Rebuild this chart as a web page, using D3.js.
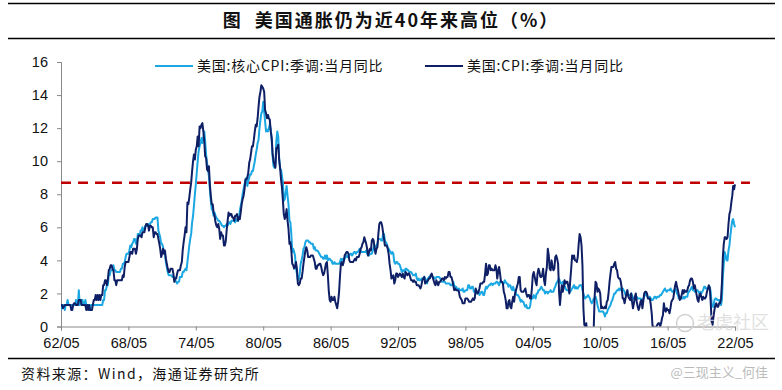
<!DOCTYPE html>
<html><head><meta charset="utf-8">
<script src="https://cdn.jsdelivr.net/npm/d3@7"></script>
<style>
html,body{margin:0;padding:0;background:#fff;}
svg{display:block;}
</style></head>
<body>
<svg id="chart" width="782" height="390"></svg>
<script>
// ---- DATA (monthly, starting 1962-05) ----
const startYear = 1962, startMonth = 5;
const seriesNames = ["美国:核心CPI:季调:当月同比", "美国:CPI:季调:当月同比"];
const coreYoY = [
1.0,1.3,1.3,1.3,1.0,1.3,1.3,1.6,
1.3,1.3,1.3,1.3,1.3,1.3,1.3,1.3,1.6,1.3,1.3,2.2,
1.3,1.6,1.6,1.6,1.3,1.3,1.6,1.3,1.3,1.3,1.3,1.0,
1.3,1.3,1.3,1.3,1.3,1.3,1.3,1.3,1.3,1.3,1.3,1.3,
1.3,1.6,1.6,2.2,2.2,2.5,2.5,3.1,3.1,3.4,3.4,3.4,
3.7,3.4,3.4,3.3,3.3,3.3,3.3,3.3,3.5,3.5,3.8,3.8,
3.9,4.2,4.4,4.4,4.4,4.6,4.9,4.8,5.0,5.1,5.3,5.3,
5.0,5.0,5.6,5.6,5.5,5.8,5.8,6.0,5.8,5.8,6.1,6.1,
6.1,6.2,6.0,6.2,6.3,6.3,6.5,6.5,6.5,6.6,6.6,6.6,
5.8,5.6,5.4,5.0,5.0,4.8,4.5,4.4,3.9,3.6,3.3,3.1,
3.1,3.1,3.1,3.0,3.0,3.0,2.8,2.7,2.6,2.7,2.7,3.0,
3.0,3.0,3.3,3.3,3.4,3.5,3.4,3.9,4.4,4.9,5.3,5.6,
6.3,6.7,7.3,8.0,8.6,9.3,10.0,10.6,10.9,11.1,11.4,11.1,
11.4,11.8,11.2,10.4,9.9,9.5,9.1,8.3,7.6,7.1,7.0,6.7,
6.9,6.7,6.6,6.5,6.4,6.4,6.3,6.2,6.1,6.1,6.0,6.1,
6.1,6.2,6.1,6.3,6.3,6.2,6.4,6.4,6.4,6.4,6.3,6.5,
6.4,6.4,6.5,7.0,7.3,7.6,8.0,8.3,8.6,8.8,9.0,8.5,
8.8,9.0,9.2,9.2,9.4,9.4,9.7,10.0,10.4,10.7,11.1,11.3,
12.0,12.5,12.9,13.0,13.6,13.0,12.4,11.8,11.9,11.8,12.0,12.2,
11.9,11.3,10.3,9.7,9.6,9.8,11.2,11.8,11.5,10.2,9.5,9.5,
9.1,8.7,7.6,7.7,8.1,8.5,7.9,7.4,6.4,6.3,5.6,4.5,
4.7,4.5,4.3,3.5,3.2,2.8,2.9,3.2,3.8,4.0,4.3,4.7,
4.8,5.1,5.2,5.2,5.2,5.1,5.1,5.0,5.0,5.0,4.7,4.8,
4.6,4.6,4.6,4.5,4.4,4.3,4.2,4.2,4.1,4.1,4.3,4.1,
4.3,4.0,4.1,4.1,4.0,4.0,3.8,3.8,3.9,3.8,3.8,3.8,
3.8,3.8,3.9,4.1,4.0,4.1,4.0,4.1,4.2,4.3,4.2,4.2,
4.3,4.4,4.4,4.3,4.4,4.5,4.5,4.4,4.5,4.5,4.6,4.7,
4.6,4.5,4.5,4.5,4.5,4.5,4.6,4.4,4.3,4.3,4.4,4.4,
4.4,4.6,4.8,4.9,4.8,4.9,5.0,5.3,5.3,5.3,5.2,5.2,
5.6,5.6,5.2,5.1,5.0,4.8,4.7,4.6,4.5,4.4,4.5,4.4,
3.9,3.8,3.9,3.9,3.8,3.8,3.7,3.5,3.3,3.4,3.4,3.3,
3.5,3.5,3.4,3.4,3.3,3.3,3.3,3.2,3.1,3.1,3.1,3.2,
2.9,2.8,2.9,2.8,2.8,2.9,2.9,2.9,3.0,2.9,2.8,2.6,
2.9,3.0,3.0,3.1,3.1,3.0,3.0,2.9,2.9,3.0,3.0,3.0,
3.0,2.9,2.8,2.7,2.7,2.7,2.7,2.6,2.6,2.6,2.6,2.6,
2.5,2.5,2.5,2.7,2.5,2.4,2.4,2.3,2.2,2.3,2.2,2.2,
2.2,2.3,2.1,2.1,2.2,2.2,2.2,2.5,2.5,2.3,2.3,2.4,
2.4,2.1,2.1,2.2,2.0,2.1,2.1,1.9,2.0,2.1,2.1,1.9,
1.9,2.2,2.4,2.3,2.4,2.5,2.5,2.6,2.6,2.5,2.6,2.6,
2.6,2.7,2.7,2.6,2.5,2.7,2.7,2.7,2.6,2.6,2.8,2.7,
2.6,2.6,2.4,2.5,2.5,2.3,2.2,2.4,2.2,2.2,2.0,1.9,
1.9,1.8,1.7,1.5,1.6,1.5,1.5,1.3,1.2,1.3,1.1,1.1,
1.1,1.2,1.6,1.8,1.7,1.9,1.8,1.7,2.0,2.0,2.2,2.2,
2.3,2.4,2.3,2.2,2.2,2.0,2.1,2.1,2.0,2.1,2.1,2.2,
2.1,2.1,2.1,2.3,2.4,2.6,2.7,2.8,2.9,2.7,2.6,2.6,
2.7,2.7,2.5,2.3,2.2,2.2,2.2,2.1,2.1,2.2,2.3,2.4,
2.5,2.3,2.4,2.3,2.3,2.4,2.5,2.5,2.5,2.2,2.0,1.8,
1.7,1.8,1.8,1.9,1.8,1.7,1.5,1.4,1.5,1.7,1.7,1.8,
1.6,1.3,1.1,0.9,0.9,0.9,0.9,0.9,0.8,0.6,0.8,0.8,
1.0,1.1,1.2,1.3,1.5,1.6,1.8,2.0,2.0,2.1,2.2,2.2,
2.3,2.2,2.3,2.3,2.3,2.2,2.1,1.9,2.0,2.0,1.9,1.9,
1.9,2.0,1.9,1.7,1.7,1.6,1.7,1.8,1.7,1.7,1.7,1.7,
1.6,1.6,1.7,1.8,2.0,1.9,1.9,1.7,1.7,1.8,1.7,1.6,
1.6,1.7,1.8,1.8,1.7,1.8,1.8,1.8,1.9,1.9,2.0,2.1,
2.2,2.3,2.2,2.1,2.2,2.2,2.2,2.3,2.2,2.1,2.1,2.2,
2.3,2.2,2.0,1.9,1.7,1.7,1.7,1.7,1.7,1.8,1.7,1.8,
1.8,1.8,2.1,2.1,2.2,2.3,2.4,2.2,2.2,2.1,2.2,2.2,
2.2,2.1,2.0,2.1,2.0,2.1,2.2,2.4,2.4,2.3,2.3,2.3,
2.3,2.4,2.1,1.4,1.2,1.2,1.6,1.7,1.7,1.6,1.6,1.6,
1.4,1.3,1.6,3.0,3.8,4.5,4.3,4.0,4.0,4.6,4.9,5.5,
6.0,6.4,6.5,6.2,6.0
];
const cpiYoY = [
1.3,1.3,1.1,1.2,1.3,1.3,1.3,1.3,
1.3,1.3,1.3,1.0,1.0,1.3,1.4,1.4,1.3,1.3,1.3,1.6,
1.6,1.6,1.3,1.3,1.3,1.3,1.3,1.0,1.3,1.0,1.3,1.0,
1.0,1.0,1.3,1.6,1.6,1.9,1.6,1.9,1.6,1.9,1.6,1.9,
1.9,2.5,2.5,2.8,2.8,2.5,2.8,3.4,3.5,3.7,3.7,3.5,
3.4,2.8,2.8,2.5,2.8,2.8,2.8,2.8,2.8,2.8,3.1,3.0,
3.6,3.9,3.9,3.9,3.9,4.2,4.5,4.5,4.4,4.7,4.7,4.7,
4.4,4.7,5.3,5.5,5.5,5.5,5.4,5.7,5.7,5.7,6.0,6.2,
6.2,6.1,5.8,6.1,6.1,6.0,6.0,5.4,5.7,5.7,5.6,5.6,
5.3,5.0,4.7,4.2,4.4,4.7,4.4,4.6,4.1,3.8,3.5,3.3,
3.3,3.5,3.5,3.5,3.2,2.7,2.9,2.9,3.2,3.4,3.4,3.4,
3.7,3.9,4.6,5.1,5.5,6.0,5.7,7.5,7.4,7.8,8.3,8.7,
9.4,10.0,10.4,10.1,10.7,10.9,11.5,10.9,12.1,12.0,12.2,12.3,
11.8,11.2,10.3,10.2,9.5,9.4,9.7,8.6,7.9,7.4,7.4,6.9,
6.7,6.3,6.1,6.0,6.2,5.9,5.3,5.7,5.5,5.5,4.9,4.9,
5.2,5.9,6.4,6.9,6.7,6.8,6.8,6.6,6.6,6.4,6.7,6.7,
6.8,6.4,6.6,6.5,6.9,7.4,7.7,7.9,8.3,8.9,8.9,9.0,
9.3,9.9,10.1,10.5,10.9,10.9,11.3,11.8,12.2,12.1,12.6,13.3,
13.9,14.2,14.6,14.5,14.4,14.2,13.1,12.9,12.6,12.8,12.6,12.5,
11.8,11.4,10.5,10.0,9.8,9.6,10.8,10.8,11.0,10.1,9.6,8.9,
8.4,7.6,6.8,6.5,6.7,7.1,6.4,5.9,5.0,5.1,4.6,3.8,
3.7,3.5,3.6,3.9,3.5,2.6,2.5,2.6,2.9,2.9,3.3,3.8,
4.2,4.6,4.8,4.6,4.2,4.2,4.2,4.3,4.3,4.3,4.1,3.9,
3.5,3.5,3.7,3.7,3.8,3.8,3.6,3.3,3.1,3.2,3.5,3.8,
3.9,3.1,2.2,1.6,1.5,1.8,1.6,1.6,1.8,1.5,1.3,1.1,
1.5,2.1,3.0,3.8,3.9,3.7,3.9,4.3,4.4,4.5,4.5,4.4,
4.0,3.9,3.9,3.9,3.9,4.0,4.1,4.0,4.2,4.2,4.2,4.4,
4.7,4.8,5.0,5.1,5.4,5.2,5.0,4.7,4.3,4.5,4.7,4.6,
5.2,5.3,5.2,4.7,4.4,4.7,4.8,5.6,6.2,6.3,6.3,6.1,
5.7,5.3,4.9,4.9,4.9,4.7,4.4,3.8,3.4,2.9,3.0,3.1,
2.6,2.8,3.2,3.2,3.0,3.1,3.2,3.1,3.0,3.2,3.0,2.9,
3.3,3.2,3.1,3.2,3.2,3.0,2.8,2.8,2.7,2.8,2.7,2.7,
2.5,2.5,2.5,2.4,2.3,2.5,2.8,2.9,3.0,2.6,2.7,2.7,
2.8,2.9,2.9,3.1,3.2,3.0,2.8,2.6,2.5,2.8,2.6,2.5,
2.7,2.7,2.8,2.9,2.9,2.8,3.0,2.9,3.0,3.0,3.3,3.3,
3.0,3.0,2.8,2.5,2.2,2.3,2.2,2.2,2.2,2.1,1.8,1.7,
1.6,1.4,1.4,1.4,1.7,1.7,1.7,1.6,1.5,1.5,1.5,1.6,
1.7,1.6,1.7,2.3,2.1,2.0,2.1,2.3,2.6,2.6,2.6,2.7,
2.7,3.2,3.8,3.1,3.2,3.7,3.7,3.4,3.5,3.4,3.4,3.4,
3.7,3.5,2.9,3.3,3.6,3.2,2.7,2.7,2.6,2.1,1.9,1.6,
1.1,1.1,1.5,1.6,1.2,1.1,1.5,1.8,1.5,2.0,2.2,2.4,
2.6,3.0,3.0,2.2,2.1,2.1,2.1,2.2,2.3,2.0,1.8,1.9,
1.9,1.7,1.7,2.3,3.1,3.3,3.0,2.7,2.5,3.2,3.5,3.3,
3.0,3.0,3.1,3.5,2.8,2.5,3.2,3.6,4.7,4.3,3.5,3.4,
4.0,3.6,3.4,3.5,4.2,4.3,4.1,3.8,2.1,1.3,2.0,2.5,
2.1,2.4,2.8,2.6,2.7,2.7,2.4,2.0,2.8,3.5,4.3,4.1,
4.3,4.0,4.0,3.9,4.2,5.0,5.6,5.4,4.9,3.7,1.1,0.1,
0.0,0.2,-0.4,-0.7,-1.3,-1.4,-2.1,-1.5,-1.3,-0.2,1.8,2.7,
2.6,2.1,2.3,2.2,2.0,1.1,1.2,1.1,1.1,1.2,1.1,1.5,
1.6,2.1,2.7,3.2,3.6,3.6,3.6,3.8,3.9,3.5,3.4,3.0,
2.9,2.9,2.7,2.3,1.7,1.7,1.4,1.7,2.0,2.2,1.8,1.7,
1.6,2.0,1.5,1.1,1.4,1.8,2.0,1.5,1.2,1.0,1.2,1.5,
1.6,1.1,1.5,2.0,2.1,2.1,2.0,1.7,1.7,1.7,1.3,0.8,
-0.1,0.0,-0.1,-0.2,0.0,0.1,0.2,0.2,0.0,0.2,0.5,0.7,
1.4,1.0,0.9,1.1,1.0,1.0,0.8,1.1,1.5,1.6,1.7,2.1,
2.5,2.7,2.4,2.2,1.9,1.6,1.7,1.9,2.2,2.0,2.2,2.1,
2.1,2.2,2.4,2.5,2.8,2.9,2.9,2.7,2.3,2.5,2.2,1.9,
1.6,1.5,1.9,2.0,1.8,1.6,1.8,1.7,1.7,1.8,2.1,2.3,
2.5,2.3,1.5,0.3,0.1,0.6,1.0,1.3,1.4,1.2,1.2,1.4,
1.4,1.7,2.6,4.2,5.0,5.4,5.4,5.3,5.4,6.2,6.8,7.0,
7.5,7.9,8.5,8.3,8.6
];
const refLevel = 8.7;
const yTicks = [0, 2, 4, 6, 8, 10, 12, 14, 16];
const xTickYears = [1962, 1968, 1974, 1980, 1986, 1992, 1998, 2004, 2010, 2016, 2022];
const titleText = "图  美国通胀仍为近40年来高位（%）";
const sourceText = "资料来源：Wind，海通证券研究所";

// ---- CHART ----
(function () {
const svg = d3.select("#chart");
svg.append("rect").attr("width", 782).attr("height", 390).attr("fill", "#fff");

const pLeft = 61, pRight = 735, pTop = 62, pBottom = 326.5;
const dateOf = i => new Date(startYear, startMonth - 1 + i, 1);
const x = d3.scaleTime()
  .domain([new Date(1962, 4, 1), new Date(2022, 4, 1)])
  .range([pLeft, pRight]);
const y = d3.scaleLinear().domain([0, 16]).range([pBottom, pTop]);

// title block
svg.append("line").attr("x1", 8).attr("x2", 775).attr("y1", 3.5).attr("y2", 3.5)
  .attr("stroke", "#000").attr("stroke-width", 1.3);
svg.append("line").attr("x1", 8).attr("x2", 775).attr("y1", 38.5).attr("y2", 38.5)
  .attr("stroke", "#000").attr("stroke-width", 1.3);
svg.append("text").attr("x", 391).attr("y", 27).attr("text-anchor", "middle")
  .attr("font-family", "'Noto Sans CJK SC', sans-serif").attr("font-weight", "bold")
  .attr("font-size", 18).attr("letter-spacing", 2).attr("fill", "#111")
  .style("white-space", "pre").text(titleText);

// axes
const yAxis = d3.axisLeft(y).tickValues(yTicks).tickSize(4).tickPadding(9).tickFormat(d3.format("d"));
const gy = svg.append("g").attr("transform", `translate(${pLeft},0)`).call(yAxis);
gy.select(".domain").attr("stroke", "#888");
gy.selectAll(".tick line").attr("stroke", "#888");
gy.selectAll(".tick text").attr("font-family", "'Liberation Sans', Arial, sans-serif")
  .attr("font-size", 14.5).attr("fill", "#111");

const xAxis = d3.axisBottom(x).tickValues(xTickYears.map(yy => new Date(yy, 4, 1)))
  .tickSize(4).tickPadding(7).tickFormat(d3.timeFormat("%y/%m"));
const gx = svg.append("g").attr("transform", `translate(0,${pBottom})`).call(xAxis);
gx.select(".domain").attr("stroke", "#888");
gx.selectAll(".tick line").attr("stroke", "#888");
gx.selectAll(".tick text").attr("font-family", "'Liberation Sans', Arial, sans-serif")
  .attr("font-size", 14.5).attr("fill", "#111");

// clip
svg.append("clipPath").attr("id", "plotclip").append("rect")
  .attr("x", pLeft).attr("y", pTop - 10).attr("width", 760 - pLeft).attr("height", pBottom - pTop + 10);

const line = d3.line().x((d, i) => x(dateOf(i))).y(d => y(d));
const plot = svg.append("g").attr("clip-path", "url(#plotclip)");

// reference dashed line
plot.append("line")
  .attr("x1", x(new Date(1962, 4, 1))).attr("x2", x(new Date(2023, 8, 1)))
  .attr("y1", y(refLevel)).attr("y2", y(refLevel))
  .attr("stroke", "#C00000").attr("stroke-width", 2.5).attr("stroke-dasharray", "10,7");

const colors = ["#1AA7E2", "#0E1F66"];
plot.append("path").datum(coreYoY).attr("d", line).attr("fill", "none")
  .attr("stroke", colors[0]).attr("stroke-width", 2).attr("stroke-linejoin", "round");
plot.append("path").datum(cpiYoY).attr("d", line).attr("fill", "none")
  .attr("stroke", colors[1]).attr("stroke-width", 2).attr("stroke-linejoin", "round");

// legend
const legend = [{x: 155, c: colors[0], t: seriesNames[0]}, {x: 425, c: colors[1], t: seriesNames[1]}];
legend.forEach(l => {
  svg.append("line").attr("x1", l.x).attr("x2", l.x + 38).attr("y1", 66).attr("y2", 66)
    .attr("stroke", l.c).attr("stroke-width", 2);
  svg.append("text").attr("x", l.x + 42).attr("y", 71)
    .attr("font-family", "'Noto Sans CJK SC', sans-serif").attr("font-size", 14)
    .attr("letter-spacing", 0.8).attr("fill", "#111").text(l.t);
});

// source
svg.append("line").attr("x1", 8).attr("x2", 775).attr("y1", 358.5).attr("y2", 358.5)
  .attr("stroke", "#000").attr("stroke-width", 1.3);
svg.append("text").attr("x", 21).attr("y", 379)
  .attr("font-family", "'Noto Sans CJK SC', sans-serif").attr("font-size", 14)
  .attr("letter-spacing", 1.4).attr("fill", "#111").text(sourceText);

// watermarks
svg.append("circle").attr("cx", 685).attr("cy", 323).attr("r", 8.5)
  .attr("fill", "none").attr("stroke", "#d0d0d0").attr("stroke-width", 1.5);
svg.append("text").attr("x", 697).attr("y", 329)
  .attr("font-family", "'Noto Sans CJK SC', sans-serif").attr("font-size", 18)
  .attr("fill", "#d8d8d8").attr("fill-opacity", 0.8).text("老虎社区");
svg.append("text").attr("x", 768).attr("y", 377).attr("text-anchor", "end")
  .attr("font-family", "'Noto Sans CJK SC', sans-serif").attr("font-size", 13)
  .attr("fill", "#bbb").text("@三现主义_何佳");
})();
</script>
</body></html>
